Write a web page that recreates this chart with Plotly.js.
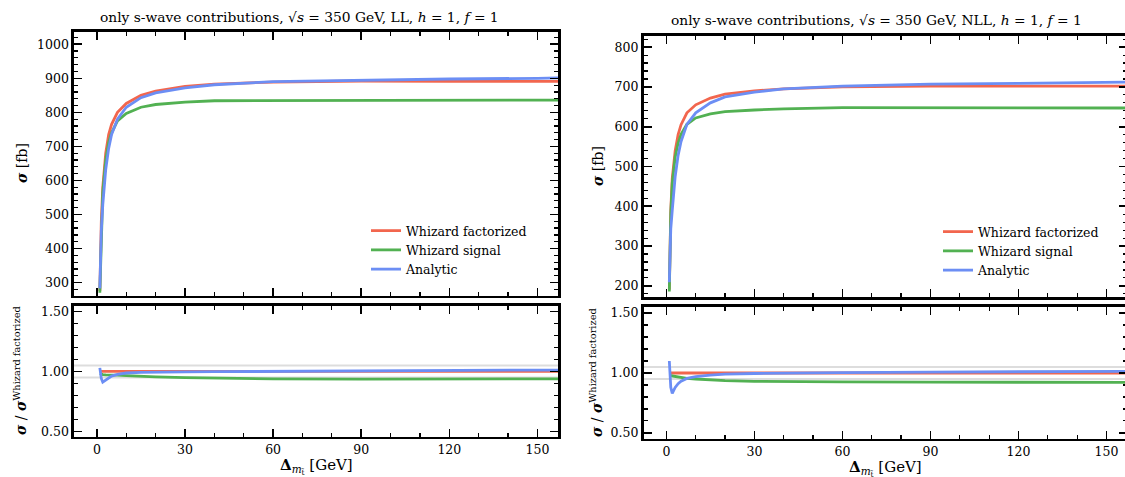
<!DOCTYPE html>
<html>
<head>
<meta charset="utf-8">
<script src="https://cdn.plot.ly/plotly-3.0.1.min.js"></script>
<style>
html,body{margin:0;padding:0;overflow:hidden;background:#fff;}
#chart{width:1128px;height:477px;}
</style>
</head>
<body>
<div id="chart"></div>
<script>
// ---------------- data ----------------
const deltaM = [1, 1.5, 2, 3, 4, 5, 7, 10, 15, 20, 30, 40, 60, 90, 120, 150, 157];

// LL panel, sigma [fb]
const llFactorized = [275, 480, 580, 680, 735, 765, 800, 826, 850, 862, 876, 883, 889, 892, 891, 890, 891];
const llSignal     = [270, 468, 565, 660, 712, 740, 775, 797, 815, 823, 830, 834, 834, 835, 834, 834, 836];
const llAnalytic   = [283, 452, 528, 632, 694, 735, 780, 815, 843, 857, 872, 881, 890, 895, 898, 900, 901];

// NLL panel, sigma [fb]
const nllFactorized = [190, 390, 470, 540, 580, 605, 635, 655, 672, 682, 690, 695, 700, 702, 702, 703, 702];
const nllSignal     = [186, 381, 458, 524, 559, 581, 606, 622, 632, 638, 642, 645, 648, 648, 647, 647, 647];
const nllAnalytic   = [209, 343, 390, 475, 528, 563, 606, 635, 660, 675, 687, 695, 702, 707, 709, 711, 712];

const seriesNames = ["Whizard factorized", "Whizard signal", "Analytic"];
const ratioBand = [0.95, 1.05];
const panelTitles = [
  "only s-wave contributions, √<i>s</i> = 350 GeV, LL, <i>h</i> = 1, <i>f</i> = 1",
  "only s-wave contributions, √<i>s</i> = 350 GeV, NLL, <i>h</i> = 1, <i>f</i> = 1"
];

// ---------------- style ----------------
const colors = ["#F2664E", "#52B152", "#6C8EF4"];
const FONT = "DejaVu Serif";

function ratio(arr, ref){ return arr.map((v,i)=> v/ref[i]); }

const traces = [];
function addPanel(series, xa, ya, xr, yr, legendId){
  const ref = series[0];
  series.forEach((s, k) => {
    traces.push({x: deltaM, y: s, xaxis: xa, yaxis: ya, type: "scatter", mode: "lines",
      name: seriesNames[k], legend: legendId,
      line: {color: colors[k], width: 2.8}, showlegend: true});
    traces.push({x: deltaM, y: ratio(s, ref), xaxis: xr, yaxis: yr, type: "scatter", mode: "lines",
      name: seriesNames[k], line: {color: colors[k], width: 2.8}, showlegend: false});
  });
}
addPanel([llFactorized, llSignal, llAnalytic], "x", "y", "x2", "y2", "legend");
addPanel([nllFactorized, nllSignal, nllAnalytic], "x3", "y3", "x4", "y4", "legend2");

const W = 1128, H = 477;
const px = v => v / W;
const py = v => 1 - v / H;

function xAxis(dom, anchor, showLabels){
  return {domain: dom, anchor: anchor, range: [-7.8, 157], dtick: 30, tick0: 0,
    ticks: "inside", ticklen: 8, tickwidth: 1.6, tickcolor: "#000",
    minor: {ticks: "inside", ticklen: 4, tickwidth: 1.2, dtick: 10, tick0: 0, tickcolor: "#000"},
    showline: true, linewidth: 2.6, linecolor: "#000", mirror: "allticks",
    showgrid: false, zeroline: false, showticklabels: showLabels,
    tickfont: {family: FONT, size: 12.5, color: "#000"}};
}
function yAxis(dom, anchor, range, dtick, minorDtick, fmt){
  return {domain: dom, anchor: anchor, range: range, dtick: dtick, tick0: 0,
    ticks: "inside", ticklen: 8, tickwidth: 1.6, tickcolor: "#000",
    minor: {ticks: "inside", ticklen: 4, tickwidth: 1.2, dtick: minorDtick, tick0: 0, tickcolor: "#000"},
    showline: true, linewidth: 2.6, linecolor: "#000", mirror: "allticks",
    showgrid: false, zeroline: false, tickformat: fmt,
    tickfont: {family: FONT, size: 12.5, color: "#000"}};
}

const Lx = [px(74), px(558)], Rx = [px(643.5), px(1127)];

const layout = {
  width: W, height: H, margin: {l: 0, r: 0, t: 0, b: 0},
  paper_bgcolor: "#fff", plot_bgcolor: "#fff",
  font: {family: FONT, color: "#000", size: 12},
  xaxis:  xAxis(Lx, "y", false),
  yaxis:  yAxis([py(295.5), py(32)], "x", [262, 1036], 100, 20, "d"),
  xaxis2: xAxis(Lx, "y2", true),
  yaxis2: yAxis([py(436.5), py(305.5)], "x2", [0.457, 1.55], 0.5, 0.1, ".2f"),
  xaxis3: xAxis(Rx, "y3", false),
  yaxis3: yAxis([py(297), py(36)], "x3", [172, 828], 100, 20, "d"),
  xaxis4: xAxis(Rx, "y4", true),
  yaxis4: yAxis([py(438.5), py(306.5)], "x4", [0.453, 1.555], 0.5, 0.1, ".2f"),
  legend:  {x: px(366), y: py(216), xanchor: "left", yanchor: "top", bgcolor: "rgba(0,0,0,0)",
            borderwidth: 0, font: {family: FONT, size: 12.5, color: "#000"}, itemwidth: 30},
  legend2: {x: px(938), y: py(217), xanchor: "left", yanchor: "top", bgcolor: "rgba(0,0,0,0)",
            borderwidth: 0, font: {family: FONT, size: 12.5, color: "#000"}, itemwidth: 30},
  shapes: [],
  annotations: []
};

// reference band lines in ratio panels
[["x2", "y2"], ["x4", "y4"]].forEach(([xa, ya]) => {
  ratioBand.forEach(v => {
    layout.shapes.push({type: "line", xref: xa + " domain", yref: ya, x0: 0, x1: 1, y0: v, y1: v,
      line: {color: "#dddddd", width: 2}, layer: "below"});
  });
});

const ann = layout.annotations;
function A(text, x, y, opts){ ann.push(Object.assign({text: text, x: px(x), y: py(y), xref: "paper", yref: "paper",
  showarrow: false, xanchor: "center", yanchor: "middle", font: {family: FONT, size: 12.5, color: "#000"}}, opts||{})); }

A(panelTitles[0], 299, 17, {font: {family: FONT, size: 13.8, color: "#000"}});
A(panelTitles[1], 876, 20, {font: {family: FONT, size: 13.8, color: "#000"}});
A("<b><i>σ</i></b> [fb]", 22, 163, {textangle: -90, font: {family: FONT, size: 14, color: "#000"}});
A("<b><i>σ</i></b> [fb]", 598, 166, {textangle: -90, font: {family: FONT, size: 14, color: "#000"}});
A("<b><i>σ</i></b> / <b><i>σ</i></b><sup>Whizard factorized</sup>", 20, 371, {textangle: -90, font: {family: FONT, size: 14, color: "#000"}});
A("<b><i>σ</i></b> / <b><i>σ</i></b><sup>Whizard factorized</sup>", 596, 373, {textangle: -90, font: {family: FONT, size: 14, color: "#000"}});
A("<b>Δ</b><sub><i>m</i><sub>t̃</sub></sub> [GeV]", 316, 466, {font: {family: FONT, size: 15, color: "#000"}});
A("<b>Δ</b><sub><i>m</i><sub>t̃</sub></sub> [GeV]", 885, 468, {font: {family: FONT, size: 15, color: "#000"}});

Plotly.newPlot("chart", traces, layout, {displayModeBar: false, staticPlot: true});
</script>
</body>
</html>
